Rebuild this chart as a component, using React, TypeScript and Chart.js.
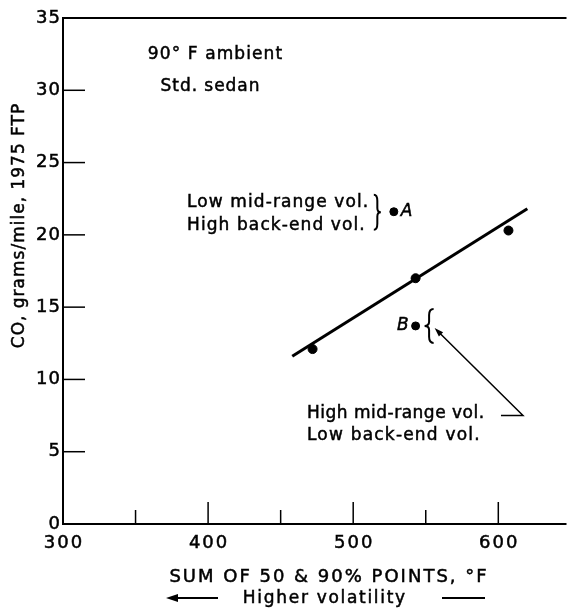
import React, { useEffect, useRef } from "react";
import { Chart, registerables } from "chart.js";

Chart.register(...registerables);

// Data
const pointX = [472, 543, 607];
const pointY = [12.1, 17.0, 20.3];
const fuelA = { x: 528, y: 21.6 };
const fuelB = { x: 543, y: 13.7 };
const fitX = [458, 620];
const fitY = [11.6, 21.8];
const xTickValues = [300, 400, 500, 600];
const xMinorTicks = [350, 450, 550];
const yTickValues = [0, 5, 10, 15, 20, 25, 30, 35];

const FONT = "'DejaVu Sans', sans-serif";

function drawBrace(ctx: CanvasRenderingContext2D, xb: number, yTop: number, yBot: number, dir: number, w: number) {
  const xm = xb + (dir * w) / 2;
  const xt = xb + dir * w;
  const h = yBot - yTop;
  const ym = (yTop + yBot) / 2;
  ctx.beginPath();
  ctx.moveTo(xb, yTop);
  ctx.quadraticCurveTo(xm, yTop, xm, yTop + h * 0.18);
  ctx.lineTo(xm, ym - h * 0.12);
  ctx.quadraticCurveTo(xm, ym, xt, ym);
  ctx.quadraticCurveTo(xm, ym, xm, ym + h * 0.12);
  ctx.lineTo(xm, yBot - h * 0.18);
  ctx.quadraticCurveTo(xm, yBot, xb, yBot);
  ctx.stroke();
}

function arrowHead(ctx: CanvasRenderingContext2D, x: number, y: number, fromX: number, fromY: number, len: number, half: number) {
  const ang = Math.atan2(y - fromY, x - fromX);
  ctx.beginPath();
  ctx.moveTo(x, y);
  ctx.lineTo(x - len * Math.cos(ang) + half * Math.sin(ang), y - len * Math.sin(ang) - half * Math.cos(ang));
  ctx.lineTo(x - len * Math.cos(ang) - half * Math.sin(ang), y - len * Math.sin(ang) + half * Math.cos(ang));
  ctx.closePath();
  ctx.fill();
}

const decorPlugin = {
  id: "decor",
  afterDraw(chart: any) {
    const ctx: CanvasRenderingContext2D = chart.ctx;
    const xs = chart.scales.x;
    const ys = chart.scales.y;
    const { left, right, top, bottom } = chart.chartArea;
    ctx.save();
    ctx.strokeStyle = "#000";
    ctx.fillStyle = "#000";
    // spines
    ctx.lineWidth = 2;
    ctx.beginPath();
    ctx.moveTo(right, top);
    ctx.lineTo(left, top);
    ctx.lineTo(left, bottom);
    ctx.lineTo(right, bottom);
    ctx.stroke();
    // y ticks (inward)
    ctx.lineWidth = 1.5;
    yTickValues.slice(1, -1).forEach((v) => {
      const y = ys.getPixelForValue(v);
      ctx.beginPath();
      ctx.moveTo(left, y);
      ctx.lineTo(left + 22, y);
      ctx.stroke();
    });
    // x ticks (inward)
    xTickValues.slice(1).forEach((v) => {
      const x = xs.getPixelForValue(v);
      ctx.beginPath();
      ctx.moveTo(x, bottom);
      ctx.lineTo(x, bottom - 22);
      ctx.stroke();
    });
    xMinorTicks.forEach((v) => {
      const x = xs.getPixelForValue(v);
      ctx.beginPath();
      ctx.moveTo(x, bottom);
      ctx.lineTo(x, bottom - 14);
      ctx.stroke();
    });

    const text = (s: string, x: number, y: number, size: number, align: CanvasTextAlign, spacing = 0, style = "") => {
      ctx.font = `${style} ${size}px ${FONT}`.trim();
      (ctx as any).letterSpacing = `${spacing}px`;
      ctx.textAlign = align;
      ctx.textBaseline = "middle";
      let dx = 0;
      if (align === "center") dx = spacing / 2;
      else if (align === "right") dx = spacing;
      ctx.lineWidth = 0.5;
      ctx.fillText(s, x + dx, y);
      ctx.strokeText(s, x + dx, y);
    };

    // tick labels
    yTickValues.forEach((v) => text(String(v), left - 3, ys.getPixelForValue(v), 18, "right", 1));
    xTickValues.forEach((v) => text(String(v), xs.getPixelForValue(v), 543, 18, "center", 2));

    text("90° F ambient", 215, 55, 17, "center", 1.1);
    text("Std. sedan", 210, 87, 17, "center", 0.95);

    const ax = xs.getPixelForValue(fuelA.x);
    const ay = ys.getPixelForValue(fuelA.y);
    text("Low mid-range vol.", 187, ay - 9, 17, "left", 1.1);
    text("High back-end vol.", 187, ay + 14, 17, "left", 1.1);
    ctx.lineWidth = 2;
    drawBrace(ctx, ax - 20, ay - 17, ay + 18, 1, 7);
    text("A", ax + 7, ay, 17, "left", 0, "italic");

    const bx = xs.getPixelForValue(fuelB.x);
    const by = ys.getPixelForValue(fuelB.y);
    text("B", bx - 7, by, 17, "right", 0, "italic");
    ctx.lineWidth = 2;
    drawBrace(ctx, bx + 18, by - 17, by + 17, -1, 9);

    // arrow from label to B
    const tipX = bx + 19;
    const tipY = by + 2;
    const cornerX = xs.getPixelForValue(617);
    const cornerY = ys.getPixelForValue(7.5);
    ctx.lineWidth = 1.5;
    ctx.beginPath();
    ctx.moveTo(cornerX - 22, cornerY);
    ctx.lineTo(cornerX, cornerY);
    ctx.lineTo(tipX + 4, tipY + 4);
    ctx.stroke();
    arrowHead(ctx, tipX, tipY, cornerX, cornerY, 9, 3);

    text("High mid-range vol.", 307, 414, 17, "left", 0.5);
    text("Low back-end vol.", 307, 436, 17, "left", 1.2);

    // axis titles
    text("SUM OF 50 & 90% POINTS, °F", 328, 577, 18, "center", 2);
    text("Higher volatility", 324, 599, 17, "center", 1.7);
    ctx.lineWidth = 2;
    ctx.beginPath();
    ctx.moveTo(218, 598);
    ctx.lineTo(174, 598);
    ctx.stroke();
    arrowHead(ctx, 166, 598, 218, 598, 12, 4);
    ctx.beginPath();
    ctx.moveTo(442, 598);
    ctx.lineTo(485, 598);
    ctx.stroke();

    ctx.save();
    ctx.translate(20, 226);
    ctx.rotate(-Math.PI / 2);
    text("CO, grams/mile, 1975 FTP", 0, 0, 17, "center", 1.0);
    ctx.restore();

    ctx.restore();
  },
};

export default function App() {
  const ref = useRef<HTMLCanvasElement | null>(null);
  useEffect(() => {
    document.body.style.margin = "0";
    const canvas = ref.current!;
    const chart = new Chart(canvas, {
      type: "scatter",
      data: {
        datasets: [
          {
            type: "line",
            data: fitX.map((x, i) => ({ x, y: fitY[i] })),
            borderColor: "#000",
            borderWidth: 3,
            pointRadius: 0,
            fill: false,
          } as any,
          {
            data: pointX.map((x, i) => ({ x, y: pointY[i] })),
            backgroundColor: "#000",
            borderColor: "#000",
            pointRadius: 4.5,
          },
          {
            data: [fuelA, fuelB],
            backgroundColor: "#000",
            borderColor: "#000",
            pointRadius: 4,
          },
        ],
      },
      options: {
        responsive: false,
        animation: false,
        layout: { padding: { top: 18, right: 0, left: 0, bottom: 0 } },
        plugins: { legend: { display: false }, tooltip: { enabled: false } },
        scales: {
          x: {
            type: "linear",
            min: 300,
            max: 647,
            grid: { display: false, drawTicks: false },
            border: { display: false },
            afterBuildTicks: (scale: any) => {
              scale.ticks = xTickValues.map((v) => ({ value: v }));
            },
            afterFit: (scale: any) => {
              scale.height = 86;
            },
            ticks: { display: false },
          },
          y: {
            min: 0,
            max: 35,
            grid: { display: false, drawTicks: false },
            border: { display: false },
            afterBuildTicks: (scale: any) => {
              scale.ticks = yTickValues.map((v) => ({ value: v }));
            },
            afterFit: (scale: any) => {
              scale.width = 63;
            },
            ticks: { display: false },
          },
        },
      },
      plugins: [decorPlugin],
    });
    return () => chart.destroy();
  }, []);
  return (
    <div style={{ position: "absolute", left: 0, top: 0, width: 572, height: 610, background: "#fff" }}>
      <canvas ref={ref} width={572} height={610} style={{ display: "block" }} />
    </div>
  );
}
